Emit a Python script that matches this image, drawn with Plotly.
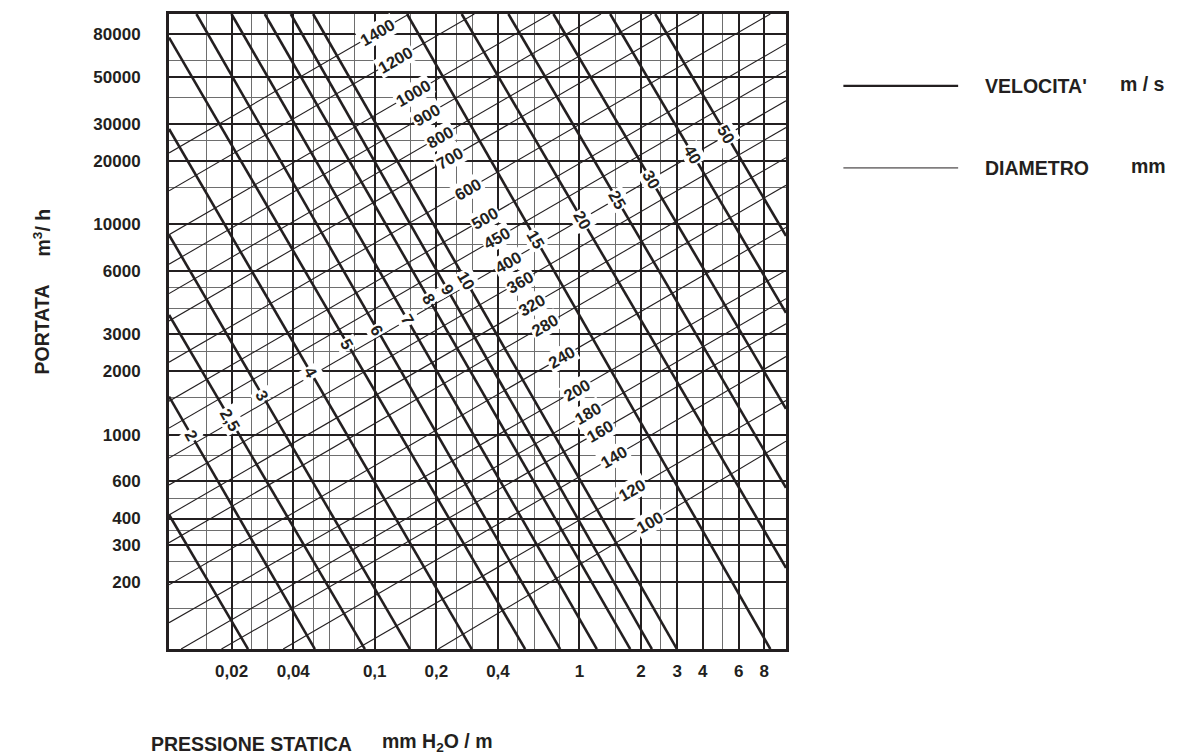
import math
import plotly.graph_objects as go

INK = "#231f20"
FONT_NUM = "Liberation Sans, Arial, sans-serif"
FONT_TXT = "Liberation Sans, Arial, sans-serif"

# ---------------- axes ----------------
x_tick_vals = [0.02, 0.04, 0.1, 0.2, 0.4, 1, 2, 3, 4, 6, 8]
x_tick_text = ["0,02", "0,04", "0,1", "0,2", "0,4", "1", "2", "3", "4", "6", "8"]
x_minor_vals = [0.015, 0.025, 0.03, 0.05, 0.06, 0.08, 0.15, 0.25, 0.3,
                0.5, 0.6, 0.8, 1.5, 2.5, 5]
y_tick_vals = [200, 300, 400, 600, 1000, 2000, 3000, 6000, 10000, 20000,
               30000, 50000, 80000]
y_tick_text = ["200", "300", "400", "600", "1000", "2000", "3000", "6000",
               "10000", "20000", "30000", "50000", "80000"]
y_minor_vals = [150, 250, 350, 500, 800, 1500, 2500, 4000, 5000, 8000,
                15000, 25000, 40000, 60000]
x_range_log = [-2.005, 1.009]
y_range_log = [1.982, 5.0]

# ---------------- velocity lines (m/s) ----------------
vel_values = [1.5, 2, 2.5, 3, 4, 5, 6, 7, 8, 9, 10, 15, 20, 25, 30, 40, 50]
vel_labels = ["", "2", "2,5", "3", "4", "5", "6", "7", "8", "9", "10",
              "15", "20", "25", "30", "40", "50"]
vel_p_start = [0.00989, 0.00989, 0.00989, 0.00989, 0.00989, 0.00989,
               0.01346, 0.01996, 0.02904, 0.0389, 0.0500, 0.1439,
               0.2660, 0.4497, 0.7464, 1.413, 2.345]
vel_q_start = [417, 1520, 3715, 8913, 28430, 77300,
               100000, 100000, 100000, 100000, 100000, 100000,
               100000, 100000, 100000, 100000, 100000]
vel_p_end = [0.02405, 0.0510, 0.0895, 0.1486, 0.2977, 0.5428,
             0.8047, 1.216, 1.770, 2.259, 2.994, 8.56,
             10.21, 10.21, 10.21, 10.21, 10.21]
vel_q_end = [95.9, 95.9, 95.9, 95.9, 95.9, 95.9,
             95.9, 95.9, 95.9, 95.9, 95.9, 95.9,
             233, 560, 1329, 3800, 8818]
vel_label_p = [None, 0.01270, 0.01974, 0.02818, 0.0486, 0.0734, 0.1028,
               0.1441, 0.1841, 0.2262, 0.2783, 0.6117, 1.034, 1.534,
               2.234, 3.568, 5.20]

# ---------------- diameter lines (mm) ----------------
diam_values = [100, 120, 140, 160, 180, 200, 240, 280, 320, 360, 400, 450,
               500, 600, 700, 800, 900, 1000, 1200, 1400]
diam_p_start = [0.2044, 0.0815, 0.0357, 0.01784, 0.01133, 0.00989, 0.00989,
                0.00989, 0.00989, 0.00989, 0.00989, 0.00989, 0.00989,
                0.00989, 0.00989, 0.00989, 0.00989, 0.00989, 0.00989, 0.00989]
diam_q_start = [95.9, 95.9, 95.9, 95.9, 95.9, 127.9, 193.6, 307, 416, 578,
                775, 1077, 1444, 2213, 3476, 4693, 6470, 8935, 14440, 21870]
diam_p_end = [10.21, 10.21, 10.21, 10.21, 10.21, 10.21, 10.21, 10.21, 10.21,
              10.21, 10.21, 10.21, 10.21, 8.56, 3.840, 2.257, 1.274, 0.7190,
              0.3066, 0.1470]
diam_q_end = [933, 1455, 2355, 3368, 4436, 6047, 9670, 15340, 20760, 28860,
              38700, 53800, 72100, 100000, 100000, 100000, 100000, 100000,
              100000, 100000]
diam_label_p = [2.217, 1.804, 1.467, 1.262, 1.107, 0.9711, 0.8203, 0.6797,
                0.5850, 0.5129, 0.4496, 0.3946, 0.3458, 0.2865, 0.2332,
                0.2084, 0.1794, 0.1543, 0.1256, 0.1036]


def q_on_line(p, p0, q0, p1, q1):
    lp, lp0, lp1 = math.log10(p), math.log10(p0), math.log10(p1)
    lq0, lq1 = math.log10(q0), math.log10(q1)
    return 10 ** (lq0 + (lp - lp0) * (lq1 - lq0) / (lp1 - lp0))


fig = go.Figure()

# diameter lines (thin)
xs, ys = [], []
for i in range(len(diam_values)):
    xs += [diam_p_start[i], diam_p_end[i], None]
    ys += [diam_q_start[i], diam_q_end[i], None]
fig.add_trace(go.Scatter(x=xs, y=ys, mode="lines",
                         line=dict(color=INK, width=1.1),
                         hoverinfo="skip", showlegend=False))

# velocity lines (thick)
xs, ys = [], []
for i in range(len(vel_values)):
    xs += [vel_p_start[i], vel_p_end[i], None]
    ys += [vel_q_start[i], vel_q_end[i], None]
fig.add_trace(go.Scatter(x=xs, y=ys, mode="lines",
                         line=dict(color=INK, width=2.6),
                         hoverinfo="skip", showlegend=False))

annotations = []
lab_font = dict(family=FONT_NUM, size=16.5, color=INK, weight="bold")
for i, d in enumerate(diam_values):
    p = diam_label_p[i]
    q = q_on_line(p, diam_p_start[i], diam_q_start[i], diam_p_end[i], diam_q_end[i])
    annotations.append(dict(x=math.log10(p), y=math.log10(q), xref="x", yref="y",
                            text=str(d), showarrow=False, textangle=-30,
                            xanchor="center", yanchor="middle",
                            bgcolor="white", borderpad=1, font=lab_font))
for i, v in enumerate(vel_values):
    if not vel_labels[i]:
        continue
    p = vel_label_p[i]
    q = q_on_line(p, vel_p_start[i], vel_q_start[i], vel_p_end[i], vel_q_end[i])
    annotations.append(dict(x=math.log10(p), y=math.log10(q), xref="x", yref="y",
                            text=vel_labels[i], showarrow=False, textangle=60,
                            xanchor="center", yanchor="middle",
                            bgcolor="white", borderpad=1, font=lab_font))

title_font = dict(family=FONT_TXT, size=19.5, color=INK, weight="bold")


def paper_text(x, y, text, angle=0, anchor="center"):
    return dict(x=x, y=y, xref="paper", yref="paper", text=text,
                textangle=angle, showarrow=False, xanchor=anchor,
                yanchor="middle", font=title_font)


annotations += [
    paper_text(-0.2065, 0.5026, "PORTATA", -90),
    paper_text(-0.2065, 0.6553, "m<sup>3</sup>/ h", -90),
    paper_text(0.1342, -0.1496, "PRESSIONE STATICA"),
    paper_text(0.4359, -0.1465, "mm H<sub>2</sub>O / m"),
    paper_text(1.3185, 0.8867, "VELOCITA'", anchor="left"),
    paper_text(1.5374, 0.8900, "m / s", anchor="left"),
    paper_text(1.3185, 0.7576, "DIAMETRO", anchor="left"),
    paper_text(1.5555, 0.7610, "mm", anchor="left"),
]

shapes = [
    dict(type="line", xref="paper", yref="paper", x0=1.093, x1=1.279,
         y0=0.8867, y1=0.8867, line=dict(color=INK, width=2.2)),
    dict(type="line", xref="paper", yref="paper", x0=1.093, x1=1.279,
         y0=0.7576, y1=0.7576, line=dict(color=INK, width=1)),
]

tick_font = dict(family=FONT_NUM, size=17, color=INK, weight="bold")
fig.update_layout(
    width=1179, height=756,
    margin=dict(l=169, r=393, t=14, b=107),
    paper_bgcolor="white", plot_bgcolor="white",
    showlegend=False,
    annotations=annotations, shapes=shapes,
    xaxis=dict(type="log", range=x_range_log, tickmode="array",
               tickvals=x_tick_vals, ticktext=x_tick_text, tickfont=tick_font,
               ticks="", ticklabelstandoff=5,
               showgrid=True, gridcolor=INK, gridwidth=2.4,
               minor=dict(tickvals=x_minor_vals, showgrid=True,
                          gridcolor="#6e6e6e", gridwidth=1.4, ticks=""),
               showline=True, linecolor=INK, linewidth=3, mirror=True,
               zeroline=False, fixedrange=True),
    yaxis=dict(type="log", range=y_range_log, tickmode="array",
               tickvals=y_tick_vals, ticktext=y_tick_text, tickfont=tick_font,
               ticks="", ticklabelstandoff=22,
               showgrid=True, gridcolor=INK, gridwidth=2.4,
               minor=dict(tickvals=y_minor_vals, showgrid=True,
                          gridcolor="#6e6e6e", gridwidth=1.4, ticks=""),
               showline=True, linecolor=INK, linewidth=3, mirror=True,
               zeroline=False, fixedrange=True),
)

fig.write_html("out.html",
               config={"displayModeBar": False},
               post_script="document.body.style.margin='0px';"
                           "document.body.style.padding='0px';")
